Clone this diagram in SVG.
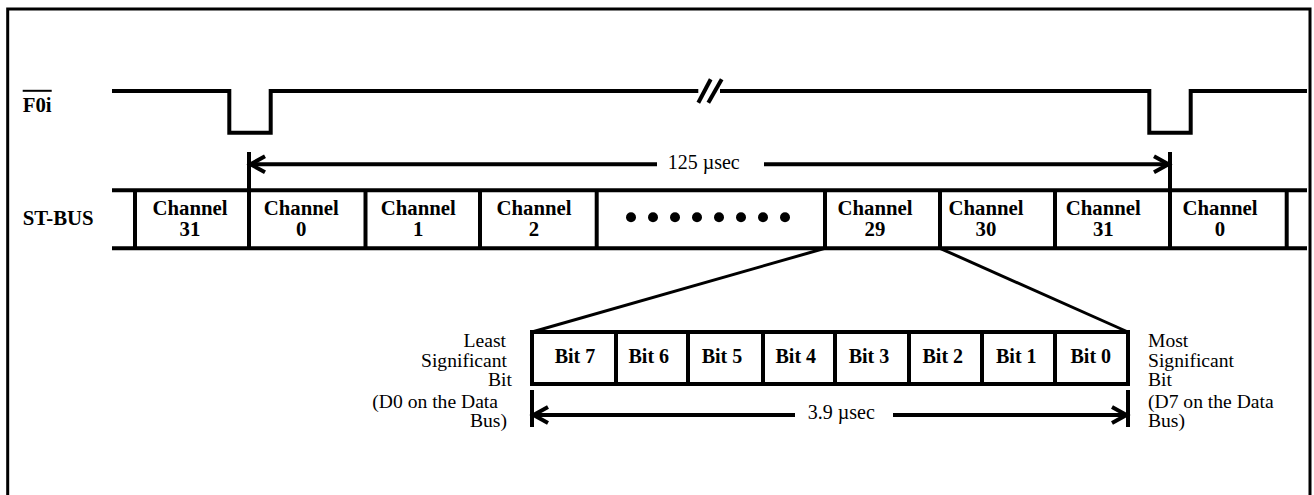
<svg xmlns="http://www.w3.org/2000/svg" width="1314" height="495" viewBox="0 0 1314 495">
<style>
.ln{fill:none;stroke:#000;stroke-width:4;stroke-linejoin:miter}
.thin{fill:none;stroke:#000;stroke-width:3}
text{font-family:'Liberation Serif','Times New Roman','DejaVu Serif',serif;fill:#000}
.b{font-weight:bold;font-size:20px}
.ch{font-weight:bold;font-size:20.8px}
.r{font-size:20px}
.s{font-size:19.6px}
.c{text-anchor:middle}
.e{text-anchor:end}
</style>
<defs>
<marker id="ah" markerUnits="userSpaceOnUse" markerWidth="24" markerHeight="24" viewBox="-20 -12 24 24" refX="0" refY="0" orient="auto-start-reverse" overflow="visible">
<path d="M-16,-8 L-1.5,0 L-16,8" fill="none" stroke="#000" stroke-width="4"/>
</marker>
</defs>
<rect width="1314" height="495" fill="#fff"/>
<path id="frame" class="thin" d="M7.7,495 V9 H1310 V495"/>

<g id="f0i">
<text class="b" x="22.7" y="111.7" style="font-size:20.8px">F0i</text>
<line x1="22.7" y1="90.8" x2="51.7" y2="90.8" stroke="#000" stroke-width="2"/>
<polyline class="ln" points="112,91 229.3,91 229.3,132.7 270.7,132.7 270.7,91 698.3,91"/>
<polyline class="ln" points="720,91 1149.3,91 1149.3,132.7 1190.7,132.7 1190.7,91 1307,91"/>
<line class="ln" x1="698.3" y1="102.7" x2="710.7" y2="79.3"/>
<line class="ln" x1="708.3" y1="102.7" x2="721.7" y2="79.3"/>
</g>

<g id="frame-period">
<line class="ln" x1="249" y1="152" x2="249" y2="190"/>
<line class="ln" x1="1170" y1="152" x2="1170" y2="190"/>
<path class="ln" d="M249,164.3 H657" marker-start="url(#ah)"/>
<path class="ln" d="M764,164.3 H1170" marker-end="url(#ah)"/>
<text class="r c" x="703.7" y="168.5">125 µsec</text>
</g>

<g id="st-bus">
<text class="ch" x="22.7" y="225">ST-BUS</text>
<line class="ln" x1="112" y1="190.3" x2="1307" y2="190.3"/>
<line class="ln" x1="112" y1="248.3" x2="1307" y2="248.3"/>
<g class="ln">
<line x1="135" y1="190" x2="135" y2="248.3"/>
<line x1="249" y1="190" x2="249" y2="248.3"/>
<line x1="365.5" y1="190" x2="365.5" y2="248.3"/>
<line x1="480" y1="190" x2="480" y2="248.3"/>
<line x1="596.7" y1="190" x2="596.7" y2="248.3"/>
<line x1="825" y1="190" x2="825" y2="248.3"/>
<line x1="940" y1="190" x2="940" y2="248.3"/>
<line x1="1055" y1="190" x2="1055" y2="248.3"/>
<line x1="1170" y1="190" x2="1170" y2="248.3"/>
<line x1="1286.7" y1="190" x2="1286.7" y2="248.3"/>
</g>
<g id="ch31a"><text class="ch c" x="190" y="215">Channel</text><text class="ch c" x="190" y="235.5">31</text></g>
<g id="ch0a"><text class="ch c" x="301.3" y="215">Channel</text><text class="ch c" x="301.3" y="235.5">0</text></g>
<g id="ch1"><text class="ch c" x="418.3" y="215">Channel</text><text class="ch c" x="418.3" y="235.5">1</text></g>
<g id="ch2"><text class="ch c" x="534" y="215">Channel</text><text class="ch c" x="534" y="235.5">2</text></g>
<g id="dots">
<circle cx="631" cy="217.3" r="5"/><circle cx="653" cy="217.3" r="5"/><circle cx="675" cy="217.3" r="5"/><circle cx="697" cy="217.3" r="5"/>
<circle cx="719" cy="217.3" r="5"/><circle cx="741" cy="217.3" r="5"/><circle cx="763" cy="217.3" r="5"/><circle cx="785" cy="217.3" r="5"/>
</g>
<g id="ch29"><text class="ch c" x="875" y="215">Channel</text><text class="ch c" x="875" y="235.5">29</text></g>
<g id="ch30"><text class="ch c" x="986" y="215">Channel</text><text class="ch c" x="986" y="235.5">30</text></g>
<g id="ch31b"><text class="ch c" x="1103.3" y="215">Channel</text><text class="ch c" x="1103.3" y="235.5">31</text></g>
<g id="ch0b"><text class="ch c" x="1220" y="215">Channel</text><text class="ch c" x="1220" y="235.5">0</text></g>
</g>

<g id="connectors">
<line class="thin" x1="825" y1="248.3" x2="532" y2="332"/>
<line class="thin" x1="940" y1="248.3" x2="1128" y2="332"/>
</g>

<g id="bits">
<rect class="ln" x="532" y="332" width="596" height="52"/>
<g class="ln">
<line x1="616" y1="332" x2="616" y2="384"/>
<line x1="688" y1="332" x2="688" y2="384"/>
<line x1="763" y1="332" x2="763" y2="384"/>
<line x1="835" y1="332" x2="835" y2="384"/>
<line x1="909" y1="332" x2="909" y2="384"/>
<line x1="982" y1="332" x2="982" y2="384"/>
<line x1="1055" y1="332" x2="1055" y2="384"/>
</g>
<text class="b c" x="575" y="363.3">Bit 7</text>
<text class="b c" x="648.8" y="363.3">Bit 6</text>
<text class="b c" x="722" y="363.3">Bit 5</text>
<text class="b c" x="795.8" y="363.3">Bit 4</text>
<text class="b c" x="869" y="363.3">Bit 3</text>
<text class="b c" x="942.8" y="363.3">Bit 2</text>
<text class="b c" x="1016.3" y="363.3">Bit 1</text>
<text class="b c" x="1090.8" y="363.3">Bit 0</text>
</g>

<g id="bit-period">
<line class="ln" x1="532" y1="390" x2="532" y2="427"/>
<line class="ln" x1="1128" y1="390" x2="1128" y2="427"/>
<path class="ln" d="M532,415 H795" marker-start="url(#ah)"/>
<path class="ln" d="M893,415 H1128" marker-end="url(#ah)"/>
<text class="r c" x="841.3" y="418.5">3.9 µsec</text>
</g>

<g id="lsb-label">
<text class="s e" x="506" y="346.7">Least</text>
<text class="s e" x="507" y="366.7">Significant</text>
<text class="s e" x="512" y="386">Bit</text>
<text class="s e" x="498" y="407.5">(D0 on the Data</text>
<text class="s e" x="507" y="426.5">Bus)</text>
</g>

<g id="msb-label">
<text class="s" x="1148" y="346.7">Most</text>
<text class="s" x="1148" y="366.7">Significant</text>
<text class="s" x="1148" y="386">Bit</text>
<text class="s" x="1148" y="407.5">(D7 on the Data</text>
<text class="s" x="1148" y="426.5">Bus)</text>
</g>
</svg>
